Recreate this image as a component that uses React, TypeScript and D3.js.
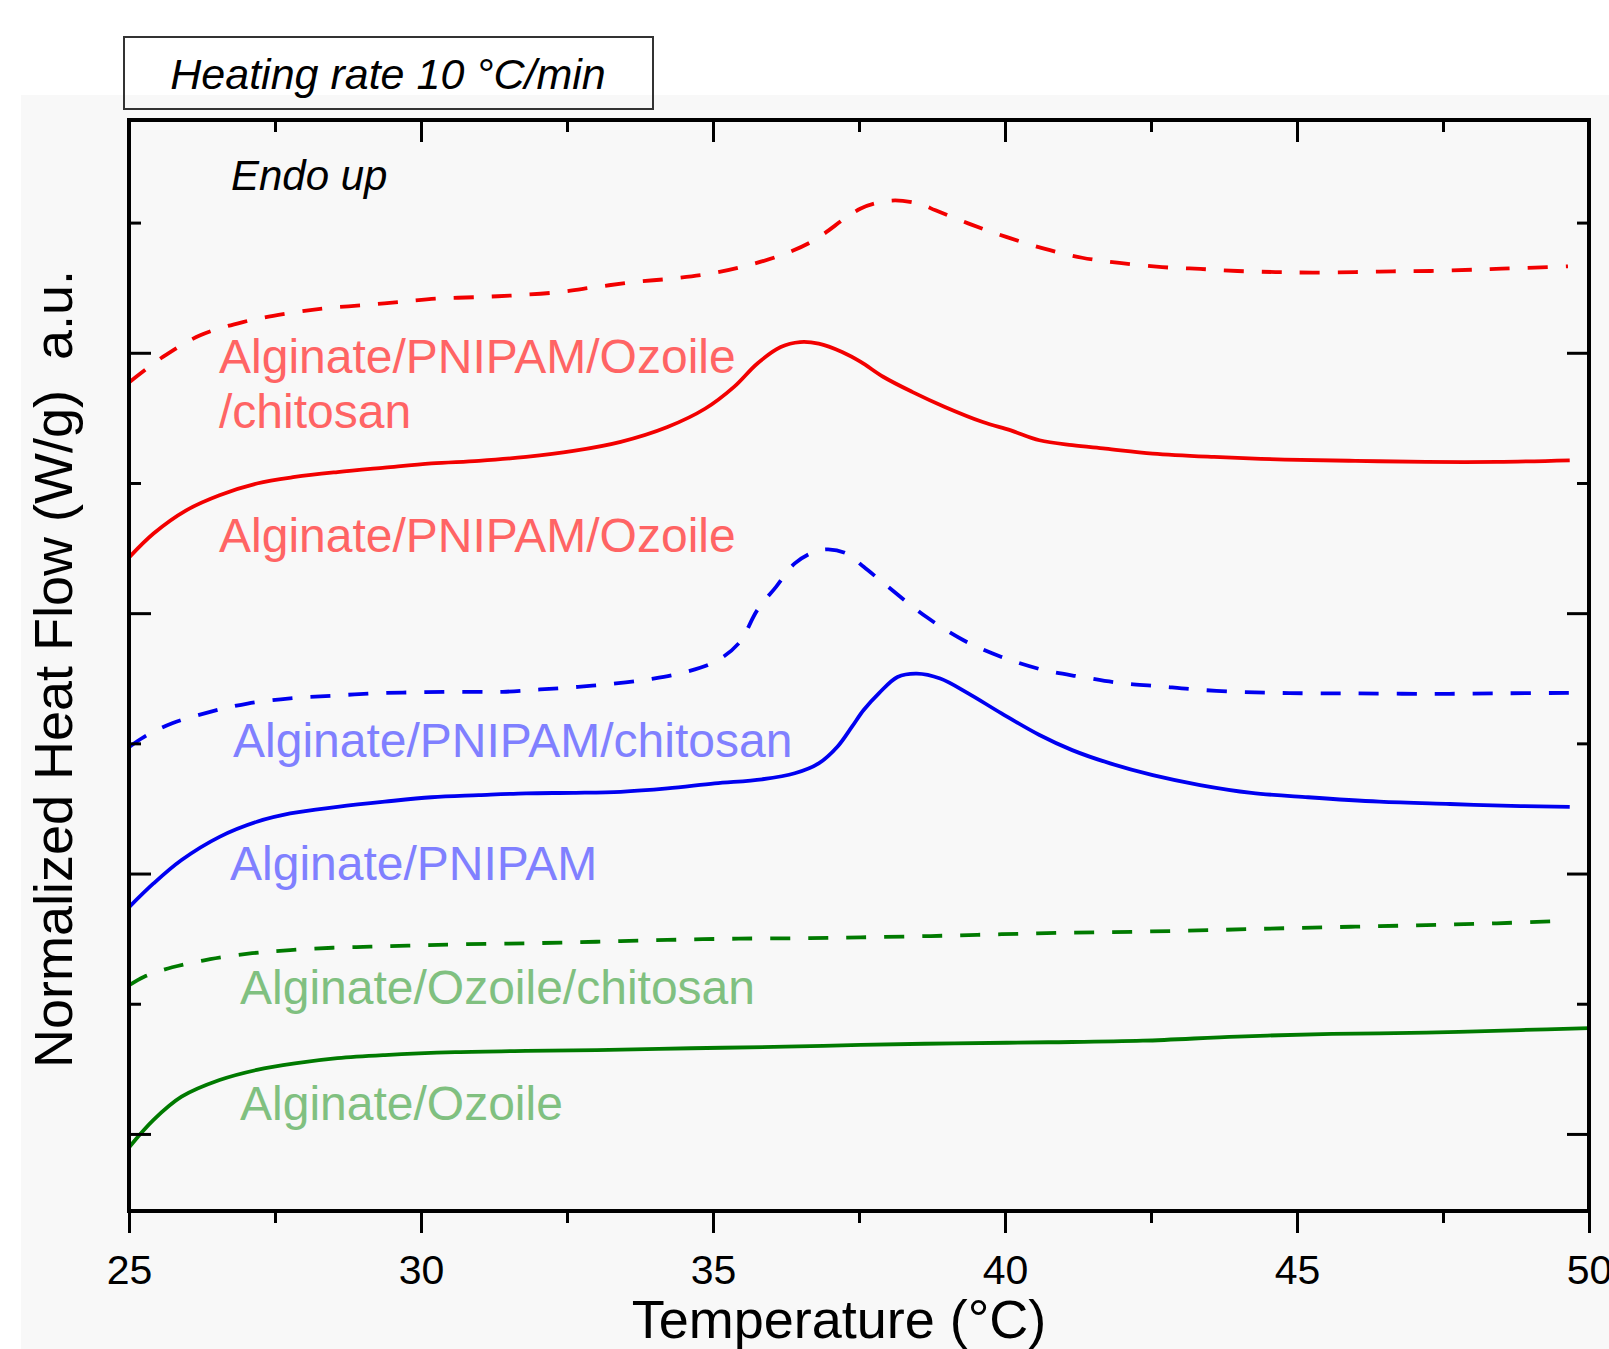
import React, { useEffect, useRef } from "react";
import * as d3 from "d3";

// temperature (°C) vs normalized heat flow (a.u., 1 unit = one major tick)
const redDashed: [number, number][] = [
  [25.01, 2.888], [25.58, 2.984], [26.22, 3.067], [26.95, 3.118], [27.68, 3.15],
  [28.32, 3.17], [28.97, 3.182], [29.62, 3.195], [30.27, 3.208], [30.99, 3.214],
  [31.64, 3.221], [32.36, 3.233], [33.01, 3.253], [33.66, 3.272], [34.3, 3.285],
  [34.95, 3.304], [35.6, 3.336], [36.24, 3.381], [36.73, 3.432], [37.29, 3.521],
  [37.53, 3.554], [37.76, 3.573], [38.12, 3.585], [38.56, 3.57], [38.81, 3.547],
  [39.38, 3.496], [40.02, 3.445], [40.67, 3.4], [41.32, 3.365], [41.96, 3.345],
  [42.69, 3.329], [43.34, 3.322], [43.98, 3.314], [44.63, 3.31], [45.27, 3.308],
  [46.0, 3.31], [46.64, 3.313], [47.29, 3.314], [48.02, 3.319], [48.51, 3.323],
  [49.07, 3.327], [49.64, 3.332],
];

const redSolid: [number, number][] = [
  [25.01, 2.216], [25.42, 2.306], [25.98, 2.395], [26.55, 2.453], [27.19, 2.498],
  [27.84, 2.523], [28.57, 2.542], [29.38, 2.559], [30.18, 2.575], [30.99, 2.585],
  [31.8, 2.6], [32.61, 2.623], [33.42, 2.658], [34.22, 2.715], [34.87, 2.786],
  [35.36, 2.869], [35.76, 2.959], [36.16, 3.022], [36.49, 3.041], [36.81, 3.035],
  [37.21, 3.003], [37.53, 2.965], [37.92, 2.907], [38.41, 2.85], [38.97, 2.792],
  [39.62, 2.734], [40.1, 2.702], [40.59, 2.664], [41.15, 2.645], [41.72, 2.632],
  [42.53, 2.613], [43.58, 2.6], [44.79, 2.59], [46.0, 2.585], [47.21, 2.581],
  [48.42, 2.581], [49.67, 2.587],
];

const blueDashed: [number, number][] = [
  [25.01, 1.487], [25.26, 1.525], [25.74, 1.577], [26.39, 1.621], [27.03, 1.653],
  [27.76, 1.673], [28.49, 1.683], [29.21, 1.692], [29.94, 1.696], [30.67, 1.698],
  [31.4, 1.698], [32.04, 1.707], [32.69, 1.717], [33.34, 1.73], [33.98, 1.749],
  [34.55, 1.775], [35.03, 1.813], [35.44, 1.884], [35.76, 2.012], [36.08, 2.101],
  [36.4, 2.191], [36.73, 2.235], [36.97, 2.245], [37.29, 2.229], [37.58, 2.178],
  [38.0, 2.101], [38.65, 1.986], [39.29, 1.896], [39.94, 1.832], [40.67, 1.781],
  [41.32, 1.755], [41.96, 1.732], [42.61, 1.72], [43.25, 1.707], [43.98, 1.698],
  [44.63, 1.694], [45.27, 1.692], [46.0, 1.692], [47.21, 1.69], [48.42, 1.692],
  [49.67, 1.694],
];

const blueSolid: [number, number][] = [
  [25.01, 0.873], [25.42, 0.962], [25.9, 1.052], [26.55, 1.141], [27.19, 1.199],
  [27.76, 1.231], [28.57, 1.256], [29.38, 1.276], [30.18, 1.293], [30.99, 1.301],
  [31.8, 1.308], [32.61, 1.31], [33.42, 1.314], [34.22, 1.327], [35.03, 1.346],
  [35.84, 1.362], [36.4, 1.385], [36.81, 1.423], [37.13, 1.487], [37.38, 1.564],
  [37.58, 1.628], [37.84, 1.692], [38.16, 1.755], [38.49, 1.768], [38.89, 1.749],
  [39.37, 1.692], [39.94, 1.615], [40.59, 1.532], [41.15, 1.474], [41.8, 1.423],
  [42.53, 1.378], [43.34, 1.34], [44.22, 1.31], [45.19, 1.293], [46.41, 1.276],
  [47.62, 1.267], [48.83, 1.259], [49.67, 1.256],
];

const greenDashed: [number, number][] = [
  [25.01, 0.572], [25.26, 0.604], [25.74, 0.64], [26.39, 0.671], [27.11, 0.694],
  [27.76, 0.706], [28.49, 0.715], [29.13, 0.719], [29.78, 0.723], [30.59, 0.728],
  [31.8, 0.732], [33.01, 0.738], [34.22, 0.745], [35.44, 0.75], [36.65, 0.752],
  [37.53, 0.755], [38.73, 0.76], [39.94, 0.767], [41.15, 0.773], [42.36, 0.777],
  [43.58, 0.783], [44.79, 0.79], [46.0, 0.796], [47.21, 0.802], [48.42, 0.809],
  [49.64, 0.819],
];

const greenSolid: [number, number][] = [
  [25.01, -0.049], [25.42, 0.054], [25.9, 0.143], [26.55, 0.207], [27.19, 0.246],
  [27.84, 0.271], [28.57, 0.291], [29.38, 0.303], [30.59, 0.314], [31.8, 0.319],
  [33.01, 0.322], [34.63, 0.329], [36.24, 0.335], [37.53, 0.342], [39.13, 0.348],
  [40.75, 0.352], [42.36, 0.358], [43.98, 0.374], [45.6, 0.384], [47.21, 0.389],
  [48.83, 0.399], [50.0, 0.406],
];

const xMajorTicks = [25, 30, 35, 40, 45, 50];
const xMinorTicks = [27.5, 32.5, 37.5, 42.5, 47.5];
const yMajorTicks = [0, 1, 2, 3];
const yMinorTicks = [0.5, 1.5, 2.5, 3.5];

const W = 1609;
const H = 1349;
const left = 129;
const right = 1589;
const top = 120;
const bottom = 1211;
const FONT = "'Liberation Sans', Arial, Helvetica, sans-serif";

const x = d3.scaleLinear().domain([25, 50]).range([left, right]);
const y = d3.scaleLinear().domain([-0.296, 3.894]).range([bottom, top]);

const line = d3
  .line<[number, number]>()
  .x((d) => x(d[0]))
  .y((d) => y(d[1]))
  .curve(d3.curveCatmullRom.alpha(0.5));

const App = () => {
  const axesRef = useRef<SVGGElement>(null);

  useEffect(() => {
    const g = d3.select(axesRef.current);
    g.selectAll("*").remove();

    // bottom: ticks outward with labels
    g.append("g")
      .attr("transform", `translate(0,${bottom})`)
      .call(d3.axisBottom(x).tickValues(xMajorTicks).tickSize(22).tickPadding(22).tickFormat(d3.format("d")));
    g.append("g")
      .attr("transform", `translate(0,${bottom})`)
      .call(d3.axisBottom(x).tickValues(xMinorTicks).tickSize(12).tickFormat(() => ""));
    // top: ticks inward
    g.append("g")
      .attr("transform", `translate(0,${top})`)
      .call(d3.axisBottom(x).tickValues(xMajorTicks).tickSize(22).tickFormat(() => ""));
    g.append("g")
      .attr("transform", `translate(0,${top})`)
      .call(d3.axisBottom(x).tickValues(xMinorTicks).tickSize(12).tickFormat(() => ""));
    // left & right: ticks inward, no labels
    g.append("g")
      .attr("transform", `translate(${left},0)`)
      .call(d3.axisRight(y).tickValues(yMajorTicks).tickSize(22).tickFormat(() => ""));
    g.append("g")
      .attr("transform", `translate(${left},0)`)
      .call(d3.axisRight(y).tickValues(yMinorTicks).tickSize(12).tickFormat(() => ""));
    g.append("g")
      .attr("transform", `translate(${right},0)`)
      .call(d3.axisLeft(y).tickValues(yMajorTicks).tickSize(22).tickFormat(() => ""));
    g.append("g")
      .attr("transform", `translate(${right},0)`)
      .call(d3.axisLeft(y).tickValues(yMinorTicks).tickSize(12).tickFormat(() => ""));

    g.selectAll(".domain").remove();
    g.selectAll(".tick line").attr("stroke", "#000").attr("stroke-width", 3);
    g.selectAll(".tick text")
      .attr("fill", "#000")
      .style("font-size", "41px")
      .style("font-family", FONT);
  }, []);

  const series = [
    { data: redDashed, color: "#f20000", dash: "20 18" },
    { data: redSolid, color: "#f20000", dash: null },
    { data: blueDashed, color: "#0000f0", dash: "20 18" },
    { data: blueSolid, color: "#0000f0", dash: null },
    { data: greenDashed, color: "#007a00", dash: "20 18" },
    { data: greenSolid, color: "#007a00", dash: null },
  ];

  return (
    <svg
      width={W}
      height={H}
      style={{ position: "absolute", left: 0, top: 0, background: "#fff" }}
      fontFamily={FONT}
    >
      <rect x={21} y={95} width={W - 21} height={H - 95} fill="#f8f8f8" />

      {series.map((s, i) => (
        <path
          key={i}
          d={line(s.data) || ""}
          fill="none"
          stroke={s.color}
          strokeWidth={3.8}
          strokeDasharray={s.dash || undefined}
        />
      ))}

      <g ref={axesRef} />
      <rect
        x={left}
        y={top}
        width={right - left}
        height={bottom - top}
        fill="none"
        stroke="#000"
        strokeWidth={4}
      />

      <rect x={124} y={37} width={529} height={72} fill="none" stroke="#333" strokeWidth={2} />
      <text x={388} y={89} textAnchor="middle" fontSize={43} fontStyle="italic" fill="#000">
        Heating rate 10 °C/min
      </text>
      <text x={231} y={190} fontSize={42} fontStyle="italic" fill="#000">
        Endo up
      </text>

      <g fontSize={48}>
        <text x={219} y={373} fill="#ff6464">Alginate/PNIPAM/Ozoile</text>
        <text x={219} y={428} fill="#ff6464">/chitosan</text>
        <text x={219} y={552} fill="#ff6464">Alginate/PNIPAM/Ozoile</text>
        <text x={233} y={757} fill="#8080ff">Alginate/PNIPAM/chitosan</text>
        <text x={230} y={880} fill="#8080ff">Alginate/PNIPAM</text>
        <text x={240} y={1004} fill="#80c080">Alginate/Ozoile/chitosan</text>
        <text x={240} y={1120} fill="#80c080">Alginate/Ozoile</text>
      </g>

      <text x={839} y={1338} textAnchor="middle" fontSize={54} fill="#000">
        Temperature (°C)
      </text>
      <text
        transform="translate(72,669) rotate(-90)"
        textAnchor="middle"
        fontSize={54}
        fill="#000"
        style={{ whiteSpace: "pre" }}
      >
        Normalized Heat Flow (W/g)  a.u.
      </text>
    </svg>
  );
};

export default App;
